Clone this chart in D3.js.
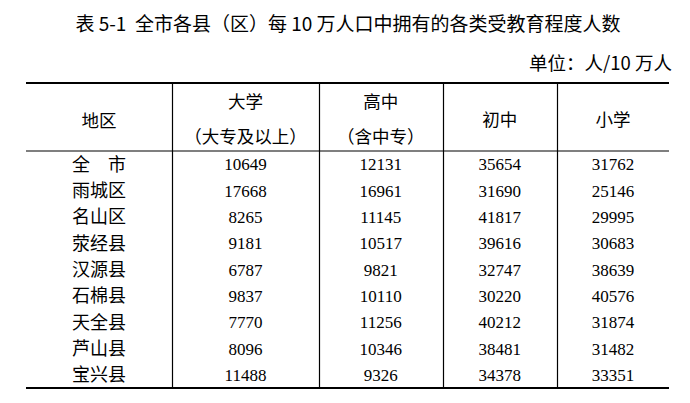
<!DOCTYPE html>
<html lang="zh">
<head>
  <meta charset="UTF-8">
  <title>表 5-1</title>
  <script src="https://d3js.org/d3.v7.min.js"></script>
  <style>
    body {
      margin: 0;
      background: #fff;
    }

    svg {
      display: block;
    }

    .cjk {
      font-family: "Noto Sans CJK SC", "Noto Sans", sans-serif;
      fill: #000;
    }

    .num {
      font-family: "Liberation Serif", "DejaVu Serif", serif;
      fill: #000;
    }
  </style>
</head>

<body>
  <svg></svg>

  <script>
    // table content
    const title = "表 5-1  全市各县（区）每 10 万人口中拥有的各类受教育程度人数";
    const unitLabel = "单位：人/10 万人";
    const regionHeader = "地区";
    const columnHeaders = [
      ["大学", "（大专及以上）"],
      ["高中", "（含中专）"],
      ["初中"],
      ["小学"]
    ];
    const regions = ["全　市", "雨城区", "名山区", "荥经县", "汉源县", "石棉县", "天全县", "芦山县", "宝兴县"];
    const university = [10649, 17668, 8265, 9181, 6787, 9837, 7770, 8096, 11488];
    const highSchool = [12131, 16961, 11145, 10517, 9821, 10110, 11256, 10346, 9326];
    const juniorHigh = [35654, 31690, 41817, 39616, 32747, 30220, 40212, 38481, 34378];
    const primary = [31762, 25146, 29995, 30683, 38639, 40576, 31874, 31482, 33351];

    const W = 690, H = 403;
    const svg = d3.select("svg").attr("width", W).attr("height", H);

    // layout
    const tableLeft = 26, tableRight = 669;
    const topY = 83, headY = 151, bottomY = 388;
    const colWidths = [146, 147, 123.5, 114.5, 112];   // relative widths
    const colKeys = ["region", "c0", "c1", "c2", "c3"];

    const total = d3.sum(colWidths);
    const x = d3.scaleLinear().domain([0, total]).range([tableLeft, tableRight]);
    const edges = d3.cumsum([0, ...colWidths]);
    const colLeft = d3.scaleOrdinal().domain(colKeys).range(edges.slice(0, -1).map(x));
    const colRight = d3.scaleOrdinal().domain(colKeys).range(edges.slice(1).map(x));
    const colMid = k => (colLeft(k) + colRight(k)) / 2;

    const y = d3.scaleBand()
      .domain(regions)
      .range([headY, bottomY]);

    // title
    svg.append("text")
      .attr("class", "cjk")
      .attr("x", 348)
      .attr("y", 31)
      .attr("text-anchor", "middle")
      .attr("font-size", 19)
      .style("white-space", "pre")
      .text(title);

    // unit
    svg.append("text")
      .attr("class", "cjk")
      .attr("x", 672)
      .attr("y", 70)
      .attr("text-anchor", "end")
      .attr("font-size", 18.5)
      .text(unitLabel);

    // horizontal rules
    svg.append("line")
      .attr("x1", tableLeft).attr("x2", tableRight)
      .attr("y1", topY).attr("y2", topY)
      .attr("stroke", "#000").attr("stroke-width", 2.2);
    svg.append("line")
      .attr("x1", tableLeft).attr("x2", tableRight)
      .attr("y1", headY).attr("y2", headY)
      .attr("stroke", "#000").attr("stroke-width", 1.2);
    svg.append("line")
      .attr("x1", tableLeft).attr("x2", tableRight)
      .attr("y1", bottomY).attr("y2", bottomY)
      .attr("stroke", "#000").attr("stroke-width", 2.2);

    // vertical rules between columns
    svg.selectAll(".vline")
      .data(colKeys.slice(1))
      .enter().append("line")
      .attr("class", "vline")
      .attr("x1", d => Math.round(colLeft(d)) + 0.5)
      .attr("x2", d => Math.round(colLeft(d)) + 0.5)
      .attr("y1", topY)
      .attr("y2", bottomY)
      .attr("stroke", "#000")
      .attr("stroke-width", 1.2);

    // header
    const headMid = (topY + headY) / 2;
    svg.append("text")
      .attr("class", "cjk")
      .attr("x", colMid("region"))
      .attr("y", headMid + 2)
      .attr("text-anchor", "middle")
      .attr("dominant-baseline", "central")
      .attr("font-size", 17.5)
      .text(regionHeader);

    columnHeaders.forEach((lines, i) => {
      const k = colKeys[i + 1];
      const offsets = lines.length === 1 ? [1] : [-16.5, 18.5];
      lines.forEach((s, j) => {
        svg.append("text")
          .attr("class", "cjk")
          .attr("x", colMid(k))
          .attr("y", headMid + offsets[j])
          .attr("text-anchor", "middle")
          .attr("dominant-baseline", "central")
          .attr("font-size", 17.5)
          .text(s);
      });
    });

    // body rows
    const rows = regions.map((r, i) => ({
      region: r,
      values: [university[i], highSchool[i], juniorHigh[i], primary[i]]
    }));

    const rowG = svg.selectAll(".row")
      .data(rows)
      .enter().append("g")
      .attr("class", "row")
      .attr("transform", d => `translate(0,${y(d.region) + y.bandwidth() / 2})`);

    rowG.append("text")
      .attr("class", "cjk")
      .attr("x", colMid("region"))
      .attr("dy", "0.36em")
      .attr("text-anchor", "middle")
      .attr("font-size", 18)
      .text(d => d.region);

    rowG.selectAll(".num")
      .data(d => d.values)
      .enter().append("text")
      .attr("class", "num")
      .attr("x", (d, i) => colMid(colKeys[i + 1]))
      .attr("dy", "0.36em")
      .attr("text-anchor", "middle")
      .attr("font-size", 17)
      .text(d => d);
  </script>
</body>

</html>
